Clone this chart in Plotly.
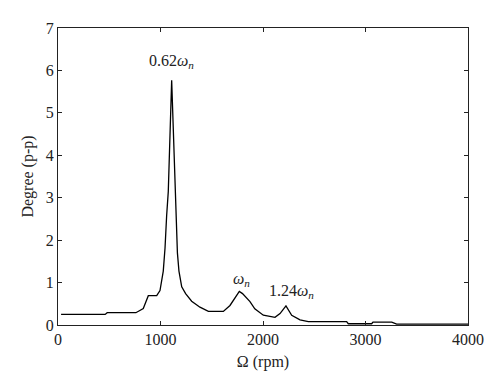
import plotly.graph_objects as go

rpm = [30, 460, 480, 760, 832, 881, 963, 995, 1027, 1044, 1060, 1076, 1109,
       1141, 1150, 1165, 1180, 1207, 1245, 1304, 1385, 1467, 1613, 1678, 1769,
       1800, 1873, 1920, 2003, 2117, 2166, 2224, 2280, 2361, 2442, 2816, 2832,
       3060, 3073, 3256, 3304, 4000]
degree = [0.25, 0.25, 0.29, 0.29, 0.39, 0.69, 0.69, 0.81, 1.27, 1.81, 2.58, 3.15, 5.77,
          3.15, 2.4, 1.7, 1.27, 0.9, 0.74, 0.56, 0.42, 0.32, 0.32, 0.46, 0.79,
          0.74, 0.55, 0.38, 0.23, 0.18, 0.27, 0.45, 0.23, 0.12, 0.08, 0.08, 0.03,
          0.03, 0.07, 0.07, 0.02, 0.02]

ann_x = [1109, 1790, 2280]
ann_y = [6.2, 1.08, 0.8]
ann_text = ["0.62<i>ω</i><sub><i>n</i></sub>", "<i>ω</i><sub><i>n</i></sub>",
            "1.24<i>ω</i><sub><i>n</i></sub>"]

font = dict(family="Liberation Serif, Times New Roman, serif", size=16, color="#222")

fig = go.Figure()
fig.add_trace(go.Scatter(x=rpm, y=degree, mode="lines",
                         line=dict(color="black", width=1.3), showlegend=False))
for x, y, t in zip(ann_x, ann_y, ann_text):
    fig.add_annotation(x=x, y=y, text=t, showarrow=False, font=font,
                       xanchor="center", yanchor="middle")

axis_common = dict(showgrid=False, zeroline=False, showline=True, linecolor="#222",
                   linewidth=1, mirror="allticks", ticks="inside", ticklen=4,
                   tickcolor="#222", tickfont=font)
fig.update_xaxes(range=[0, 4000], tickvals=[0, 1000, 2000, 3000, 4000],
                 title=dict(text="Ω (rpm)", font=font, standoff=8), **axis_common)
fig.update_yaxes(range=[0, 7], tickvals=list(range(8)),
                 title=dict(text="Degree (p-p)", font=font, standoff=8), **axis_common)
fig.update_layout(width=492, height=382, margin=dict(l=50, r=32, t=14, b=65),
                  plot_bgcolor="white", paper_bgcolor="white", font=font)
fig.write_html("out.html")
